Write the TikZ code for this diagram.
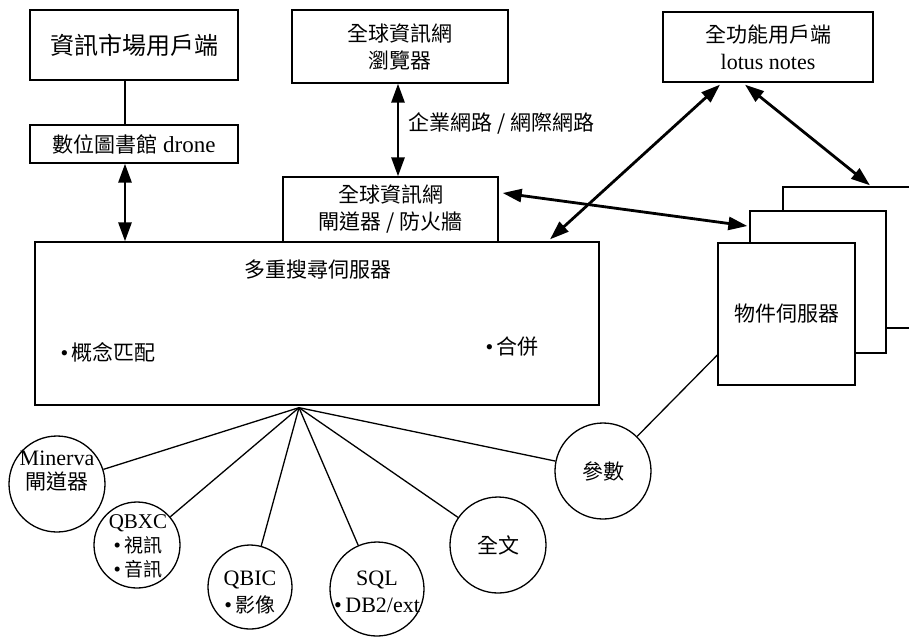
\documentclass[tikz,border=0pt]{standalone}
\usepackage{fontspec}
\setmainfont{Liberation Serif}
\newfontfamily\cjk{Noto Sans CJK TC}
\usetikzlibrary{arrows.meta}
\begin{document}
\begin{tikzpicture}[x=1pt,y=-1pt,
  box/.style={draw,line width=1.3pt,fill=white,inner sep=0pt,align=center},
  circ/.style={draw,circle,line width=1.3pt,fill=white,inner sep=0pt,align=center},
  dbl/.style={line width=2.8pt,{Triangle[length=19pt,width=13pt]}-{Triangle[length=19pt,width=13pt]}},
  link/.style={line width=1.3pt},
  fa/.style={font=\fontsize{22}{27}\selectfont,align=center},
  fc/.style={font=\cjk\fontsize{21}{27}\selectfont,align=center}]
\useasboundingbox (0,0) rectangle (909,638);

% top boxes
\node[box,font=\cjk\fontsize{24}{28}\selectfont,minimum width=208pt,minimum height=70pt] (client) at (134,45) {資訊市場用戶端};
\node[box,font=\fontsize{23}{26}\selectfont,minimum width=208pt,minimum height=38pt] (drone) at (134,144) {{\cjk\fontsize{21}{26}\selectfont 數位圖書館} drone};
\node[box,fc,minimum width=216pt,minimum height=73pt] (browser) at (400,46.5) {全球資訊網\\瀏覽器};
\node[box,fc,minimum width=215pt,minimum height=65pt] (gateway) at (390.5,209.5) {全球資訊網\\閘道器 / 防火牆};
\node[box,fa,minimum width=210pt,minimum height=70pt] (lotus) at (768,47) {{\cjk\fontsize{21}{27}\selectfont 全功能用戶端}\\lotus notes};

% multi search server
\node[box,minimum width=564pt,minimum height=163pt] (search) at (317,323.5) {};
\node[fc] (stitle) at (318,270) {多重搜尋伺服器};
\node[fa,anchor=west] (concept) at (57,352) {•\,{\cjk\fontsize{21}{27}\selectfont 概念匹配}};
\node[fa,anchor=west] (merge) at (482,347) {•\,{\cjk\fontsize{21}{27}\selectfont 合併}};

% object servers (stack)
\node[box,minimum width=142pt,minimum height=141pt] (objback) at (854,257.5) {};
\node[box,minimum width=136pt,minimum height=142pt] (objmid) at (818,282) {};
\node[box,fc,minimum width=137pt,minimum height=142pt] (objfront) at (786.5,314) {物件伺服器};

% connectors at top
\draw[link] ([xshift=-9pt]client.south) -- ([xshift=-9pt]drone.north);
\draw[dbl] ([xshift=-9pt]drone.south) -- ([xshift=-9pt]drone.south |- search.north);
\draw[dbl] ([xshift=-2pt]browser.south) -- ([xshift=-2pt]browser.south |- gateway.north);
\node[fc,anchor=west] (netlbl) at (405,123) {企業網路 / 網際網路};
\draw[dbl] ([xshift=4pt,yshift=16.5pt]gateway.east) -- ([xshift=-2pt,yshift=56pt]objmid.west);
\draw[dbl] ([xshift=-48pt,yshift=-2pt]lotus.south) -- ([xshift=233pt,yshift=2pt]search.north);
\draw[dbl] ([xshift=-23pt,yshift=-2pt]lotus.south) -- ([xshift=16pt,yshift=1pt]objback.north);

% circles
\coordinate (fan) at ([xshift=-18pt,yshift=-2pt]search.south);
\node[circ,minimum size=96pt] (minerva) at (57,484) {};
\node[fa] (minervat) at (57,471) {Minerva\\[-3pt]{\cjk\fontsize{21}{27}\selectfont 閘道器}};
\node[circ,minimum size=86pt] (qbxc) at (137,545) {};
\node[font=\fontsize{21}{25}\selectfont,align=center] (qbxct) at (138,546) {QBXC\\[-1pt]•\,{\cjk\fontsize{19}{25}\selectfont 視訊}\\[-1pt]•\,{\cjk\fontsize{19}{25}\selectfont 音訊}};
\node[circ,minimum size=84pt] (qbic) at (250,587) {};
\node[fa] (qbict) at (250,592) {QBIC\\•\,{\cjk\fontsize{20}{27}\selectfont 影像}};
\node[circ,minimum size=94pt] (sql) at (377,589) {};
\node[fa] (sqlt) at (377,592) {SQL\\•\,DB2/ext};
\node[circ,fc,minimum size=96pt] (fulltext) at (498,545) {全文};
\node[circ,fc,minimum size=96pt] (param) at (603,471) {參數};

\foreach \c in {minerva,qbxc,qbic,sql,fulltext,param}
  \draw[link] (fan) -- (\c);
\draw[link] (param) -- ([yshift=-41pt]objfront.west);
\end{tikzpicture}
\end{document}
